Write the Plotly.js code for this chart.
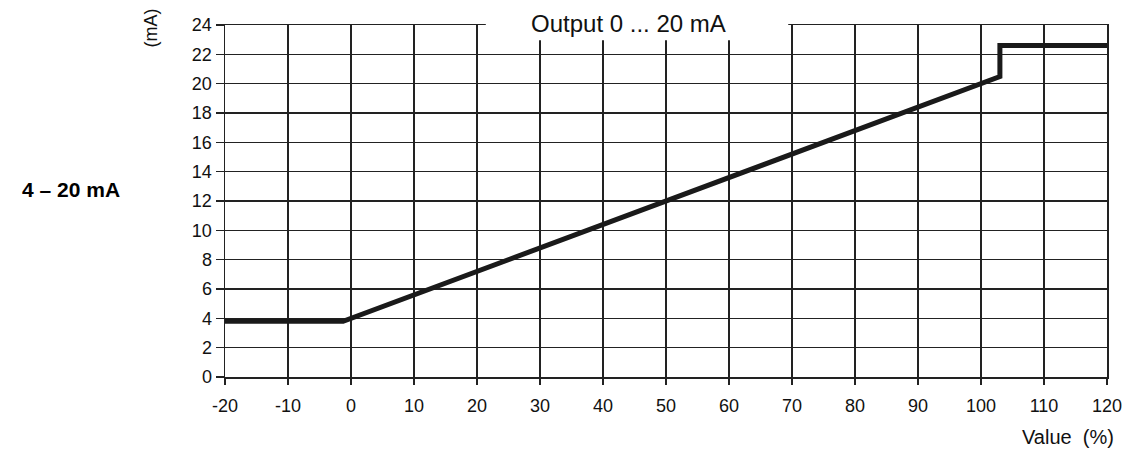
<!DOCTYPE html>
<html>
<head>
<meta charset="utf-8">
<script src="https://cdn.plot.ly/plotly-3.0.1.min.js"></script>
<style>html,body{margin:0;padding:0;background:#fff;}#chart{width:1129px;height:450px;}</style>
</head>
<body>
<div id="chart"></div>
<script>
const valuePct = [-20, -1.25, 103, 103, 120];
const outputMA = [3.8, 3.8, 20.48, 22.6, 22.6];
const xTickVals = [-20, -10, 0, 10, 20, 30, 40, 50, 60, 70, 80, 90, 100, 110, 120];
const xTickText = ["-20", "-10", "0", "10", "20", "30", "40", "50", "60", "70", "80", "90", "100", "110", "120"];
const yTickVals = [0, 2, 4, 6, 8, 10, 12, 14, 16, 18, 20, 22, 24];

const fam = "Liberation Sans, Arial, sans-serif";
const font = {family: fam, size: 18, color: "#111"};
const gridColor = "#222";

const trace = {
  x: valuePct, y: outputMA, mode: "lines", type: "scatter",
  line: {color: "#1a1a1a", width: 5}, hoverinfo: "skip", showlegend: false
};

const layout = {
  width: 1129, height: 450,
  margin: {l: 225, r: 22, t: 25, b: 73},
  paper_bgcolor: "#fff", plot_bgcolor: "#fff",
  font: font,
  xaxis: {
    range: [-20, 120], tickvals: xTickVals, ticktext: xTickText,
    showgrid: true, gridcolor: gridColor, gridwidth: 1.5, zeroline: false,
    showline: true, linecolor: gridColor, linewidth: 1.5, mirror: true,
    ticks: "outside", ticklen: 6, tickwidth: 1.5, tickcolor: gridColor,
    ticklabelstandoff: 6,
    tickfont: font, fixedrange: true
  },
  yaxis: {
    range: [0, 24], tickvals: yTickVals,
    showgrid: true, gridcolor: gridColor, gridwidth: 1.5, zeroline: false,
    showline: true, linecolor: gridColor, linewidth: 1.5, mirror: true,
    ticks: "outside", ticklen: 8, tickwidth: 1.5, tickcolor: gridColor,
    tickfont: font, fixedrange: true
  },
  shapes: [{
    type: "rect", layer: "above", xref: "x", yref: "paper",
    x0: 21.4, x1: 69.4, y0: 0.957, y1: 1.08,
    fillcolor: "#fff", line: {width: 0}
  }],
  annotations: [
    {text: "Output 0 ... 20 mA", xref: "x", yref: "paper", x: 44.1, y: 1.005,
     xanchor: "center", yanchor: "middle", showarrow: false,
     font: {family: fam, size: 24, color: "#111"}},
    {text: "Value  (%)", xref: "paper", yref: "paper", x: 1.01, y: -0.17,
     xanchor: "right", yanchor: "middle", showarrow: false,
     font: {family: fam, size: 20, color: "#111"}},
    {text: "(mA)", xref: "paper", yref: "paper", x: -0.085, y: 0.99,
     xanchor: "center", yanchor: "middle", showarrow: false, textangle: -90,
     font: {family: fam, size: 18, color: "#111"}},
    {text: "<b>4 – 20 mA</b>", xref: "paper", yref: "paper", x: -0.232, y: 0.532,
     xanchor: "left", yanchor: "middle", showarrow: false,
     font: {family: fam, size: 21, color: "#000"}}
  ]
};

Plotly.newPlot("chart", [trace], layout, {displayModeBar: false, staticPlot: true});
</script>
</body>
</html>
